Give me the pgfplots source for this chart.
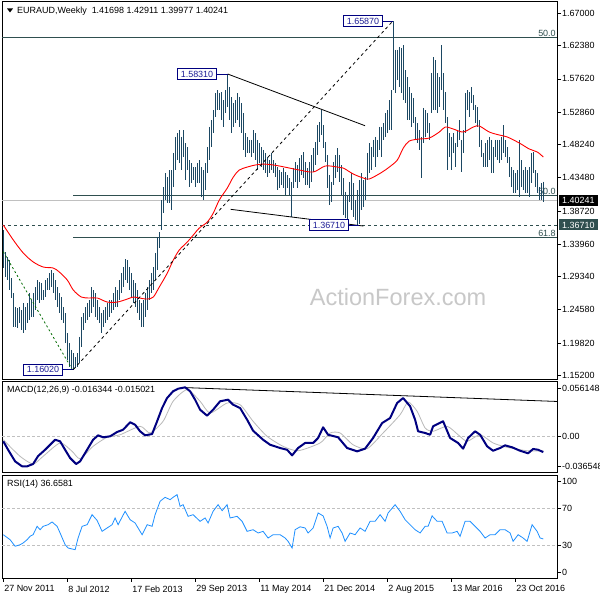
\documentclass[border=0pt]{standalone}
\usepackage{fontspec}
\setmainfont{Liberation Sans}
\usepackage{pgfplots}
\usepackage{pgfplotstable}
\pgfplotsset{compat=1.18}
\definecolor{barcol}{RGB}{28,72,99}
\definecolor{fibcol}{RGB}{47,79,79}
\definecolor{boxtext}{RGB}{30,30,150}
\definecolor{boxline}{RGB}{0,0,128}
\definecolor{wm}{RGB}{200,200,200}
\definecolor{rsicol}{RGB}{30,144,255}
\definecolor{macdcol}{RGB}{0,0,128}
\definecolor{sigcol}{RGB}{185,185,185}
\definecolor{lvl}{RGB}{192,192,192}

\pgfplotstableread{
w l h
0 1.3055 1.3599
1 1.2926 1.3284
2 1.2883 1.3212
3 1.2740 1.3169
4 1.2626 1.2912
5 1.2211 1.2697
6 1.2211 1.2497
7 1.2196 1.2483
8 1.2268 1.2497
9 1.2168 1.2454
10 1.2125 1.2554
11 1.2168 1.2497
12 1.2268 1.2554
13 1.2311 1.2697
14 1.2354 1.2597
15 1.2354 1.2697
16 1.2454 1.2783
17 1.2597 1.2883
18 1.2554 1.2855
19 1.2597 1.2840
20 1.2597 1.2740
21 1.2640 1.2883
22 1.2740 1.2912
23 1.2740 1.2983
24 1.2783 1.3026
25 1.2697 1.2983
26 1.2597 1.2883
27 1.2497 1.2783
28 1.2411 1.2697
29 1.2311 1.2640
30 1.2268 1.2497
31 1.1982 1.2411
32 1.1738 1.2125
33 1.1638 1.1982
34 1.1624 1.1882
35 1.1602 1.1839
36 1.1624 1.1781
37 1.1638 1.1839
38 1.1696 1.2068
39 1.1924 1.2354
40 1.2168 1.2411
41 1.2268 1.2497
42 1.2311 1.2554
43 1.2354 1.2597
44 1.2411 1.2783
45 1.2497 1.2740
46 1.2354 1.2697
47 1.2311 1.2597
48 1.2268 1.2497
49 1.2125 1.2411
50 1.2211 1.2454
51 1.2268 1.2497
52 1.2311 1.2554
53 1.2354 1.2597
54 1.2411 1.2597
55 1.2454 1.2697
56 1.2497 1.2783
57 1.2497 1.2740
58 1.2597 1.2883
59 1.2697 1.2983
60 1.2783 1.3069
61 1.2883 1.3184
62 1.2840 1.3169
63 1.2740 1.3069
64 1.2640 1.2983
65 1.2554 1.2883
66 1.2497 1.2840
67 1.2411 1.2740
68 1.2311 1.2597
69 1.2211 1.2554
70 1.2211 1.2597
71 1.2354 1.2697
72 1.2454 1.2783
73 1.2597 1.2883
74 1.2697 1.2983
75 1.2740 1.3069
76 1.2883 1.3270
77 1.3026 1.3499
78 1.3341 1.3570
79 1.3599 1.4028
80 1.3842 1.4214
81 1.4028 1.4414
82 1.3985 1.4357
83 1.3985 1.4457
84 1.3885 1.4457
85 1.4214 1.4701
86 1.4457 1.4930
87 1.4600 1.4987
88 1.4557 1.5030
89 1.4457 1.4930
90 1.4643 1.5030
91 1.4314 1.4844
92 1.4457 1.4786
93 1.4214 1.4600
94 1.4271 1.4557
95 1.4314 1.4500
96 1.4214 1.4500
97 1.4271 1.4557
98 1.4271 1.4600
99 1.4071 1.4500
100 1.4028 1.4457
101 1.4171 1.4557
102 1.4414 1.4786
103 1.4600 1.5073
104 1.4786 1.5173
105 1.4987 1.5316
106 1.5216 1.5559
107 1.5316 1.5602
108 1.5316 1.5559
109 1.5173 1.5573
110 1.5073 1.5459
111 1.5273 1.5602
112 1.5359 1.5831
113 1.5173 1.5645
114 1.4987 1.5502
115 1.5073 1.5416
116 1.5130 1.5459
117 1.5173 1.5559
118 1.5073 1.5502
119 1.4987 1.5416
120 1.4744 1.5273
121 1.4643 1.4987
122 1.4701 1.4930
123 1.4701 1.4887
124 1.4643 1.4887
125 1.4701 1.5030
126 1.4600 1.4987
127 1.4457 1.4887
128 1.4557 1.4844
129 1.4500 1.4786
130 1.4457 1.4744
131 1.4414 1.4701
132 1.4357 1.4643
133 1.4414 1.4600
134 1.4457 1.4701
135 1.4414 1.4600
136 1.4357 1.4557
137 1.4171 1.4500
138 1.4200 1.4457
139 1.4243 1.4429
140 1.4200 1.4486
141 1.4100 1.4429
142 1.4200 1.4386
143 1.4100 1.4343
144 1.3785 1.4286
145 1.4200 1.4486
146 1.4286 1.4572
147 1.4200 1.4529
148 1.4286 1.4629
149 1.4386 1.4672
150 1.4343 1.4715
151 1.4243 1.4572
152 1.4243 1.4486
153 1.4200 1.4572
154 1.4286 1.4672
155 1.4429 1.4772
156 1.4529 1.4858
157 1.4672 1.5101
158 1.4858 1.5144
159 1.4958 1.5316
160 1.4772 1.5101
161 1.4572 1.4858
162 1.4200 1.4672
163 1.3956 1.4386
164 1.3999 1.4286
165 1.4243 1.4572
166 1.4343 1.4672
167 1.4429 1.4772
168 1.4286 1.4672
169 1.4100 1.4529
170 1.3813 1.4343
171 1.3770 1.4143
172 1.3742 1.4100
173 1.3999 1.4286
174 1.3885 1.4414
175 1.3785 1.4271
176 1.3742 1.4028
177 1.3671 1.4171
178 1.3685 1.4314
179 1.3885 1.4414
180 1.3928 1.4314
181 1.4028 1.4357
182 1.4314 1.4701
183 1.4414 1.4844
184 1.4457 1.4786
185 1.4643 1.4887
186 1.4500 1.4930
187 1.4643 1.4887
188 1.4744 1.5073
189 1.4643 1.5073
190 1.4887 1.5130
191 1.4930 1.5273
192 1.4987 1.5316
193 1.5030 1.5459
194 1.5030 1.5602
195 1.5602 1.6587
196 1.5559 1.6175
197 1.5745 1.6175
198 1.5645 1.6218
199 1.5559 1.6203
200 1.5459 1.6246
201 1.5416 1.5888
202 1.5173 1.5788
203 1.5173 1.5645
204 1.5073 1.5559
205 1.5130 1.5488
206 1.4887 1.5216
207 1.4844 1.5130
208 1.4744 1.5030
209 1.4343 1.4930
210 1.4844 1.5345
211 1.4930 1.5316
212 1.4987 1.5273
213 1.4887 1.5130
214 1.5273 1.5845
215 1.5316 1.6074
216 1.5316 1.6031
217 1.5273 1.5845
218 1.5359 1.5788
219 1.5602 1.6246
220 1.5316 1.5845
221 1.5130 1.5573
222 1.4457 1.5216
223 1.4643 1.4987
224 1.4457 1.4930
225 1.4701 1.4987
226 1.4500 1.4844
227 1.4786 1.5030
228 1.4887 1.5173
229 1.4429 1.4887
230 1.4701 1.5030
231 1.4987 1.5559
232 1.5316 1.5602
233 1.5216 1.5573
234 1.5416 1.5645
235 1.5316 1.5531
236 1.5130 1.5388
237 1.5073 1.5359
238 1.4786 1.5173
239 1.4643 1.4887
240 1.4500 1.4701
241 1.4500 1.4844
242 1.4500 1.4887
243 1.4600 1.4930
244 1.4414 1.4887
245 1.4414 1.4786
246 1.4643 1.4887
247 1.4600 1.4887
248 1.4557 1.4887
249 1.4600 1.4930
250 1.4701 1.5101
251 1.4643 1.4887
252 1.4557 1.4786
253 1.4357 1.4643
254 1.4214 1.4500
255 1.4128 1.4457
256 1.4128 1.4414
257 1.4171 1.4457
258 1.4071 1.4887
259 1.4214 1.4600
260 1.4171 1.4457
261 1.4128 1.4500
262 1.4128 1.4457
263 1.4071 1.4500
264 1.4271 1.4701
265 1.4414 1.4715
266 1.4214 1.4457
267 1.4128 1.4414
268 1.4028 1.4214
269 1.4028 1.4271
270 1.3998 1.4291
}\bars

\pgfplotstableread{
w p
0 1.3670
5 1.3456
10 1.3269
15 1.3141
20 1.3069
25 1.3055
28 1.2998
32 1.2883
35 1.2740
39 1.2640
43 1.2626
47 1.2626
52 1.2568
57 1.2568
62 1.2611
65 1.2640
68 1.2626
72 1.2611
75 1.2640
78 1.2783
82 1.2983
85 1.3169
88 1.3313
92 1.3427
95 1.3527
98 1.3627
102 1.3713
105 1.3842
108 1.4028
112 1.4200
115 1.4357
118 1.4457
122 1.4500
126 1.4529
130 1.4543
135 1.4529
138 1.4515
143 1.4486
148 1.4457
155 1.4429
161 1.4515
167 1.4500
170 1.4486
175 1.4400
180 1.4343
183 1.4329
189 1.4420
193 1.4500
197 1.4600
200 1.4772
203 1.4872
208 1.4901
213 1.4915
218 1.5001
221 1.5073
225 1.5044
230 1.5001
235 1.5073
238 1.5087
243 1.5001
248 1.4958
252 1.4930
258 1.4844
263 1.4758
267 1.4715
270 1.4643
}\ma

\pgfplotsset{
  panel/.style={scale only axis, width=555bp, anchor=south west,
    xmin=-0.65, xmax=276.85,
    axis line style={line width=0.8bp, black},
    tick align=outside, major tick length=4bp,
    ytick pos=right, yticklabel pos=right,
    scaled y ticks=false, scaled x ticks=false,
    tick style={black, line width=0.6bp},
    yticklabel style={anchor=west, font=\fontsize{9}{10}\selectfont, inner sep=1bp},
    clip=false}
}

\begin{document}
\begin{tikzpicture}[font=\fontsize{9}{10}\selectfont]
\path[use as bounding box, fill=white] (0,0) rectangle (600bp,600bp);

% ---------- price panel ----------
\begin{axis}[panel, at={(2bp,221bp)}, height=378bp,
  ymin=1.1467, ymax=1.6876, xtick=\empty,
  ytick={1.152,1.1982,1.2458,1.2934,1.3396,1.3872,1.4348,1.4824,1.5286,1.5762,1.6238,1.67},
  yticklabels={1.15200,1.19820,1.24580,1.29340,1.33960,1.38720,1.43480,1.48240,1.52860,1.57620,1.62380,1.67000}]
\node[text=wm, font=\fontsize{23.6}{26}\selectfont] at (axis cs:197.4,1.264) {ActionForex.com};
\addplot[fibcol, line width=0.8bp] coordinates {(-0.65,1.6361)(276.85,1.6361)};
\addplot[fibcol, line width=0.8bp] coordinates {(35,1.4096)(276.85,1.4096)};
\addplot[fibcol, line width=0.8bp] coordinates {(35,1.3494)(276.85,1.3494)};
\addplot[lvl, line width=0.8bp] coordinates {(-0.65,1.40241)(276.85,1.40241)};
\addplot[fibcol, line width=0.8bp, dash pattern=on 3bp off 3bp] coordinates {(-0.65,1.3671)(276.85,1.3671)};
\node[anchor=south east, text=fibcol, inner sep=0.6bp] at (axis cs:276.6,1.6361) {50.0};
\node[anchor=south east, text=fibcol, inner sep=0.6bp] at (axis cs:276.6,1.4096) {50.0};
\node[anchor=south east, text=fibcol, inner sep=0.6bp] at (axis cs:276.6,1.3494) {61.8};
% bars (high-low ranges)
\addplot[draw=none, no markers, error bars/.cd, y dir=minus, y explicit,
  error mark=none, error bar style={line width=1.05bp, draw=barcol, solid}]
  table[x=w, y=h, y error minus expr=\thisrow{h}-\thisrow{l}] {\bars};
% moving average
\addplot[red, line width=0.9bp, smooth, tension=0.5] table[x=w, y=p] {\ma};
% trend lines
\addplot[black, line width=0.8bp] coordinates {(112.2,1.5831)(180.9,1.5091)};
\addplot[black, line width=0.8bp] coordinates {(113.7,1.3895)(180,1.3656)};
\addplot[black, line width=0.8bp, dash pattern=on 3bp off 3bp] coordinates {(35,1.1602)(194.7,1.6587)};
\addplot[black!40!green!70!black, line width=0.8bp, dash pattern=on 2bp off 2.5bp] coordinates {(0,1.3288)(34.5,1.1602)};
% price label boxes
\tikzset{pbox/.style={draw=boxline, fill=white, text=boxtext, anchor=east, line width=0.8bp,
  inner xsep=3.5bp, inner ysep=2.2bp, text height=6.6bp, text depth=0bp}}
\draw[boxline, line width=0.8bp] (axis cs:106.9,1.5831) -- (axis cs:112.2,1.5831);
\node[pbox] at (axis cs:106.9,1.5831) {1.58310};
\draw[boxline, line width=0.8bp] (axis cs:189.9,1.6587) -- (axis cs:194.7,1.6587);
\node[pbox] at (axis cs:189.9,1.6587) {1.65870};
\draw[boxline, line width=0.8bp] (axis cs:29.9,1.1602) -- (axis cs:34.9,1.1602);
\node[pbox] at (axis cs:29.9,1.1602) {1.16020};
\draw[boxline, line width=0.8bp] (axis cs:172.9,1.3671) -- (axis cs:178,1.3671);
\node[pbox] at (axis cs:172.9,1.3671) {1.36710};
% highlighted price labels on the scale
\node[fill=black, text=white, anchor=west, inner xsep=3bp, inner ysep=2.2bp, text height=6.6bp, text depth=0bp, xshift=2bp] at (axis cs:276.85,1.40241) {1.40241};
\node[fill=fibcol, text=white, anchor=west, inner xsep=3bp, inner ysep=2.2bp, text height=6.6bp, text depth=0bp, xshift=2bp] at (axis cs:276.85,1.3671) {1.36710};
\end{axis}

% ---------- MACD panel ----------
\begin{axis}[panel, at={(2bp,128bp)}, height=91bp,
  ymin=-0.036548, ymax=0.056148, xtick=\empty,
  ytick={-0.0304,0,0.049}, yticklabels={-0.036548,0.00,0.056148}]
\addplot[lvl, line width=0.7bp, dash pattern=on 3bp off 2bp] coordinates {(-0.65,0)(276.85,0)};
\addplot[black, line width=0.8bp] coordinates {(89.9,0.0495)(276.85,0.0353)};
\addplot[sigcol, line width=0.8bp, smooth, tension=0.4] coordinates {(0,-0.0037)(8.4,-0.0206)(14.9,-0.0284)(19.9,-0.0206)(28.4,-0.0070)(34.4,-0.0155)(38.4,-0.0230)(44.9,-0.0104)(51.9,-0.0012)(58.4,0.0014)(68.4,0.0100)(73.4,0.0032)(79.9,0.0151)(84.9,0.0355)(91.9,0.0473)(98.4,0.0355)(103.4,0.0235)(111.9,0.0337)(118.4,0.0320)(124.9,0.0151)(131.9,-0.0002)(139.9,-0.0104)(147.4,-0.0149)(158.4,-0.0070)(163.4,0.0032)(168.4,0.0032)(174.9,-0.0088)(181.9,-0.0128)(189.9,0.0032)(198.4,0.0218)(202.4,0.0347)(206.9,0.0253)(210.9,0.0083)(214.9,0.0049)(221.9,0.0100)(227.4,0.0014)(231.9,-0.0053)(238.4,0.0014)(244.9,-0.0070)(251.9,-0.0114)(261.9,-0.0149)(270,-0.0150)};
\addplot[macdcol, line width=2bp, line join=round] coordinates {(0,-0.0053)(2.4,-0.0139)(5.9,-0.0257)(9.4,-0.0308)(11.9,-0.0308)(14.9,-0.0284)(17.4,-0.0203)(20.9,-0.0139)(23.4,-0.0088)(25.9,-0.0037)(28.4,-0.0053)(30.9,-0.0139)(33.4,-0.0223)(36.4,-0.0284)(38.4,-0.0257)(41.9,-0.0139)(44.9,-0.0037)(47.4,0.0008)(49.9,-0.0012)(53.4,-0.0002)(56.9,0.0042)(59.9,0.0065)(63.4,0.0141)(65.9,0.0116)(68.4,0.0049)(70.9,0.0008)(74.4,0.0021)(76.9,0.0151)(79.4,0.0286)(81.9,0.0388)(84.9,0.0457)(87.4,0.0483)(90.9,0.0497)(93.4,0.0457)(95.9,0.0371)(98.4,0.0269)(101.9,0.0208)(104.9,0.0269)(108.4,0.0355)(112.4,0.0371)(114.9,0.0320)(118.4,0.0286)(121.9,0.0167)(124.9,0.0055)(129.9,-0.0037)(133.4,-0.0088)(138.4,-0.0121)(141.9,-0.0139)(144.4,-0.0196)(147.4,-0.0121)(150.9,-0.0070)(154.9,-0.0070)(157.4,-0.0019)(159.9,0.0090)(162.4,0.0014)(167.4,-0.0012)(171.9,-0.0121)(176.9,-0.0155)(180.9,-0.0128)(184.9,-0.0019)(189.4,0.0133)(193.4,0.0184)(196.9,0.0337)(199.9,0.0388)(203.4,0.0304)(205.9,0.0167)(207.4,0.0049)(210.9,0.0032)(213.4,0.0014)(214.9,0.0100)(219.9,0.0151)(223.4,-0.0019)(227.4,-0.0070)(229.9,-0.0128)(232.4,-0.0019)(235.9,0.0049)(238.4,0.0014)(241.9,-0.0104)(244.9,-0.0149)(248.4,-0.0121)(250.9,-0.0094)(254.4,-0.0114)(258.4,-0.0149)(262.4,-0.0175)(264.9,-0.0131)(267.4,-0.0139)(270,-0.0163)};
\end{axis}

% ---------- RSI panel ----------
\begin{axis}[panel, at={(2bp,22bp)}, height=103bp,
  ymin=-6.26, ymax=106.9,
  ytick={0,30,70,100}, yticklabels={0,30,70,100},
  xtick={0,32,64,96,128,160,192,224,256},
  xticklabels={27 Nov 2011,8 Jul 2012,17 Feb 2013,29 Sep 2013,11 May 2014,21 Dec 2014,2 Aug 2015,13 Mar 2016,23 Oct 2016},
  xtick pos=left,
  xticklabel style={anchor=north west, xshift=-2.5bp, font=\fontsize{9}{10}\selectfont}]
\addplot[lvl, line width=0.7bp, dash pattern=on 3bp off 2bp] coordinates {(-0.65,30)(276.85,30)};
\addplot[lvl, line width=0.7bp, dash pattern=on 3bp off 2bp] coordinates {(-0.65,70)(276.85,70)};
\addplot[rsicol, line width=0.8bp] coordinates {(0,41.3)(3.4,35.8)(5.9,28.6)(8.4,30.3)(9.9,32.2)(11.9,35.8)(13.4,39.6)(14.9,41.3)(16.9,50.5)(18.4,46.8)(19.9,50.5)(22.4,52.3)(24.4,55.3)(26.9,50.5)(28.4,43.2)(30.9,30.4)(32.4,26.7)(35.9,24.8)(37.4,37.7)(39.4,50.5)(41.9,52.3)(44.4,63.3)(46.9,57)(49.4,45)(51.9,48.7)(54.4,52.3)(55.9,59.7)(57.4,52.3)(60.9,67)(63.4,57.8)(65.9,54.2)(69.4,41.3)(71.9,52.3)(74.4,50.5)(75.9,63.3)(78.4,78)(80.9,82.4)(83.4,79.8)(84.9,82.4)(86.9,85.3)(88.4,72.5)(89.9,74.3)(92.4,61.5)(94.9,63.3)(98.4,56)(100.9,59.7)(102.4,54.2)(104.9,67)(107.4,74.3)(109.4,67.7)(111.9,74.3)(113.4,59.7)(116.9,61.5)(119.4,56)(121.9,45)(124.9,46.8)(127.4,43.2)(129.9,45)(132.4,37.7)(134.9,41.3)(138.4,41.3)(140.9,37.7)(142.4,34)(144.4,26.7)(145.9,46.8)(148.4,50)(150.9,48.7)(152.4,43.2)(154.9,48.7)(157.4,65.2)(159.9,62)(161.9,50.5)(163.4,37.7)(164.9,48.7)(167.4,50.5)(169.4,43.2)(170.9,34)(173.4,43.2)(175.9,41.3)(178.4,48.7)(180.9,45)(183.4,56)(185.9,56)(188.4,63.3)(190.9,56)(192.4,65.2)(195.9,74.3)(198.4,67)(200.9,57.8)(203.4,52.3)(205.9,46.8)(208.4,43.2)(210.9,50.5)(212.4,50.5)(214.4,62)(216.9,56)(219.4,56)(221.9,43.2)(224.4,43.2)(226.9,45)(228.4,39.5)(230.9,56)(233.4,56)(235.9,50.5)(238.4,45)(240.9,37.7)(243.4,41.3)(245.9,41.3)(248.4,46.8)(250.9,46.8)(253.4,43.2)(254.9,34)(257.4,41.3)(259.9,37.7)(261.9,34)(264.4,52.3)(266.9,45)(268.4,37.7)(270,36.66)};
\end{axis}

% ---------- panel captions ----------
\fill[black] (7bp,591.5bp) -- (13bp,591.5bp) -- (10bp,587.5bp) -- cycle;
\node[anchor=west, inner sep=0pt] at (17bp,589bp) {EURAUD,Weekly\ \ 1.41698 1.42911 1.39977 1.40241};
\node[anchor=west, inner sep=0pt] at (7bp,210bp) {MACD(12,26,9) -0.016344 -0.015021};
\node[anchor=west, inner sep=0pt] at (7bp,116bp) {RSI(14) 36.6581};
\end{tikzpicture}
\end{document}
